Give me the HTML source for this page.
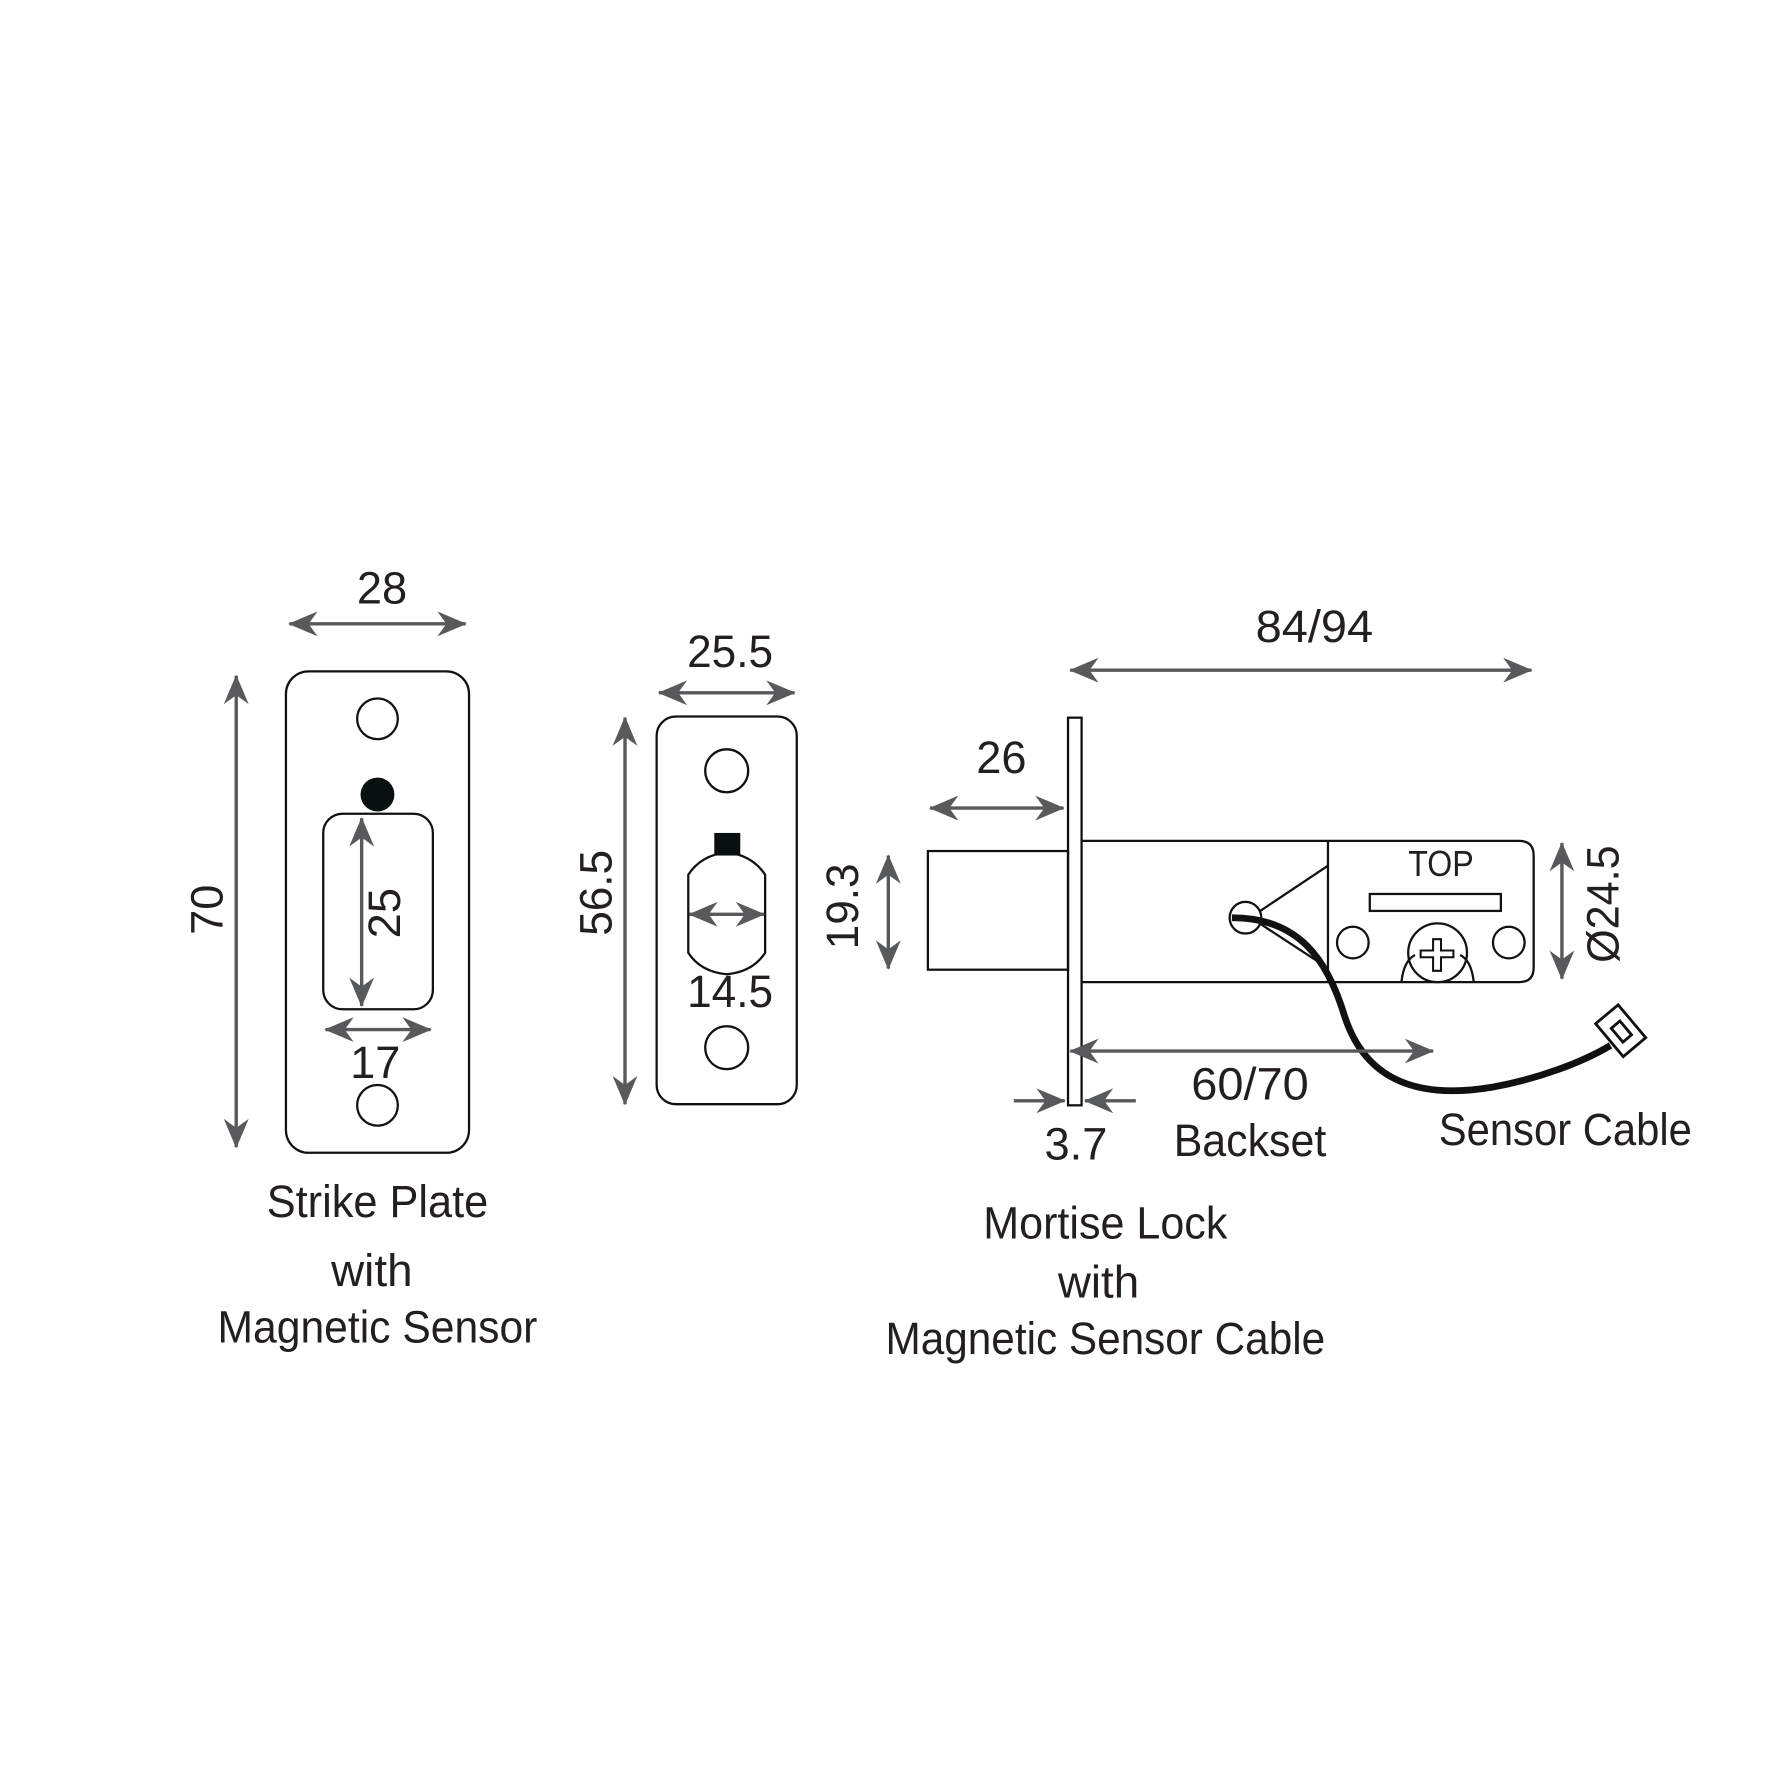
<!DOCTYPE html>
<html><head><meta charset="utf-8"><style>html,body{margin:0;padding:0;background:#fff}svg{display:block}</style></head><body>
<svg width="1771" height="1771" viewBox="0 0 1567 1567" xmlns="http://www.w3.org/2000/svg">
<defs>
<marker id="a" viewBox="0 0 26 22" refX="25" refY="11" markerWidth="26" markerHeight="22" markerUnits="userSpaceOnUse" orient="auto-start-reverse">
<path d="M0,0 L26,11 L0,22 L8,11 Z" fill="#58595b"/>
</marker>
</defs>
<rect width="1567" height="1567" fill="#fff"/>
<g fill="none" stroke="#111" stroke-width="2">
<rect x="253" y="594" width="162" height="426" rx="20"/>
<circle cx="334" cy="636" r="18"/>
<circle cx="334" cy="978" r="18"/>
<rect x="286" y="720" width="97" height="173" rx="17"/>
<rect x="581" y="634" width="124" height="343" rx="17"/>
<circle cx="643" cy="682" r="19"/>
<circle cx="643" cy="927" r="19"/>
<path d="M609,774 Q620,757 643,754 Q666,757 677,774 L677,843 Q666,860 643,862 Q620,860 609,843 Z"/>
<rect x="945" y="635" width="12" height="343"/>
<rect x="821" y="753" width="124" height="105"/>
<path d="M957,744 L1344,744 Q1357,744 1357,757 L1357,856 Q1357,869 1344,869 L957,869"/>
<line x1="1175" y1="744" x2="1175" y2="869"/>
<line x1="1175" y1="766" x2="1115" y2="806"/>
<line x1="1116" y1="818" x2="1168" y2="852"/>
<circle cx="1102" cy="812" r="14"/>
<rect x="1212" y="791" width="116" height="15"/>
<circle cx="1197" cy="834" r="14"/>
<circle cx="1335" cy="834" r="14"/>
<path d="M1240,869 Q1242,850 1252,845 M1304,869 Q1302,850 1292,845"/>
<circle cx="1272" cy="843" r="26"/>
<path d="M1268,831 h7 v10 h11 v6 h-11 v12 h-7 v-12 h-11 v-6 h11 Z" stroke-width="1.8"/>
<path d="M1090,812 C1150,812 1175,850 1190,900 C1210,960 1260,972 1320,962 C1360,955 1400,940 1425,925" stroke-width="6"/>
<g transform="translate(1434,912) rotate(-40)">
<rect x="-13" y="-19" width="26" height="38" stroke-width="2.5"/>
<rect x="-5" y="-7" width="10" height="16" stroke-width="2.5"/>
</g>
</g>
<circle cx="334" cy="703" r="15" fill="#0a0f0f"/>
<rect x="632" y="737" width="23" height="20" fill="#0a0f0f"/>
<g stroke="#58595b" stroke-width="3" fill="none" marker-start="url(#a)" marker-end="url(#a)">
<line x1="256" y1="552" x2="412" y2="552"/>
<line x1="209" y1="598" x2="209" y2="1015"/>
<line x1="320" y1="724" x2="320" y2="890"/>
<line x1="288" y1="911" x2="381" y2="911"/>
<line x1="583" y1="613" x2="703" y2="613"/>
<line x1="553" y1="635" x2="553" y2="977"/>
<line x1="610" y1="809" x2="676" y2="809"/>
<line x1="947" y1="593" x2="1355" y2="593"/>
<line x1="823" y1="715" x2="941" y2="715"/>
<line x1="786" y1="757" x2="786" y2="857"/>
<line x1="1382" y1="746" x2="1382" y2="866"/>
<line x1="947" y1="930" x2="1268" y2="930"/>
</g>
<g stroke="#58595b" stroke-width="3" fill="none" marker-end="url(#a)">
<line x1="897" y1="974" x2="942" y2="974"/>
<line x1="1005" y1="974" x2="960" y2="974"/>
</g>
<g font-family="'Liberation Sans Narrow','Liberation Sans',sans-serif" fill="#231f20" font-size="40" text-anchor="middle" lengthAdjust="spacingAndGlyphs">
<text x="338" y="534">28</text>
<text x="646" y="590" textLength="76" lengthAdjust="spacingAndGlyphs">25.5</text>
<text x="1163" y="568" textLength="104" lengthAdjust="spacingAndGlyphs">84/94</text>
<text x="886" y="684">26</text>
<text x="332" y="954">17</text>
<text x="646" y="891" textLength="76" lengthAdjust="spacingAndGlyphs">14.5</text>
<text x="1106" y="973" textLength="104" lengthAdjust="spacingAndGlyphs">60/70</text>
<text x="1106" y="1023" textLength="135" lengthAdjust="spacingAndGlyphs">Backset</text>
<text x="952" y="1026">3.7</text>
<text x="1385" y="1013" textLength="224" lengthAdjust="spacingAndGlyphs">Sensor Cable</text>
<text x="1275" y="775" font-size="32" textLength="58" lengthAdjust="spacingAndGlyphs">TOP</text>
<text transform="translate(197,805) rotate(-90)">70</text>
<text transform="translate(354,808) rotate(-90)">25</text>
<text transform="translate(541,790) rotate(-90)" textLength="76" lengthAdjust="spacingAndGlyphs">56.5</text>
<text transform="translate(759,802) rotate(-90)" textLength="76" lengthAdjust="spacingAndGlyphs">19.3</text>
<text transform="translate(1432,800) rotate(-90)" textLength="104" lengthAdjust="spacingAndGlyphs">Ø24.5</text>
<text x="334" y="1077" textLength="196" lengthAdjust="spacingAndGlyphs">Strike Plate</text>
<text x="329" y="1138" textLength="72" lengthAdjust="spacingAndGlyphs">with</text>
<text x="334" y="1188" textLength="283" lengthAdjust="spacingAndGlyphs">Magnetic Sensor</text>
<text x="978" y="1096" textLength="216" lengthAdjust="spacingAndGlyphs">Mortise Lock</text>
<text x="972" y="1148" textLength="72" lengthAdjust="spacingAndGlyphs">with</text>
<text x="978" y="1198" textLength="389" lengthAdjust="spacingAndGlyphs">Magnetic Sensor Cable</text>
</g>
</svg>
</body></html>
